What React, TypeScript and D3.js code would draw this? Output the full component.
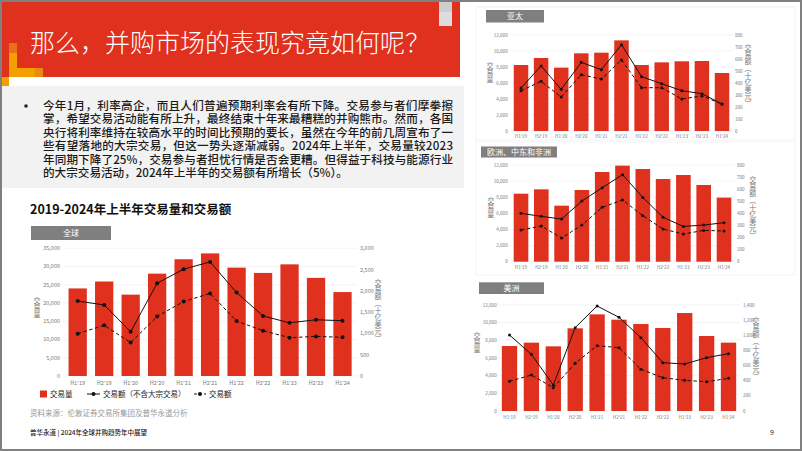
import * as d3 from "d3";
import { useEffect } from "react";

const periods = ["H1'19", "H2'19", "H1'20", "H2'20", "H1'21", "H2'21", "H1'22", "H2'22", "H1'23", "H2'23", "H1'24"];

const globalVolume = [24000, 25900, 22300, 28050, 32000, 33600, 29700, 28250, 30600, 26900, 23000];
const globalValueExMega = [1760, 1670, 1040, 2180, 2510, 2680, 1960, 1410, 1250, 1320, 1300];
const globalValue = [995, 1190, 785, 1400, 1750, 1940, 1290, 1065, 900, 930, 910];

const apacVolume = [8250, 9130, 7920, 9710, 9790, 11330, 8250, 8580, 8710, 8750, 7250];
const apacValueExMega = [358, 542, 347, 572, 511, 719, 453, 394, 336, 311, 225];
const apacValue = [336, 414, 283, 469, 433, 592, 361, 361, 267, 292, 225];

const emeaVolume = [8440, 8980, 6950, 8900, 11130, 11920, 11500, 10260, 10760, 9520, 7950];
const emeaValueExMega = [400, 375, 353, 502, 612, 720, 532, 367, 292, 303, 323];
const emeaValue = [262, 295, 196, 303, 450, 510, 381, 270, 229, 259, 254];

const amerVolume = [7360, 7740, 7320, 9360, 10940, 10340, 9850, 9400, 11090, 8490, 7740];
const amerValueExMega = [1004, 748, 343, 1101, 1387, 1237, 969, 638, 621, 704, 757];
const amerValue = [392, 475, 308, 630, 863, 836, 550, 440, 405, 387, 431];

const paragraphLines = [
  "今年1月，利率高企，而且人们普遍预期利率会有所下降。交易参与者们摩拳擦",
  "掌，希望交易活动能有所上升，最终结束十年来最糟糕的并购熊市。然而，各国",
  "央行将利率维持在较高水平的时间比预期的要长，虽然在今年的前几周宣布了一",
  "些有望落地的大宗交易，但这一势头逐渐减弱。2024年上半年，交易量较2023",
  "年同期下降了25%，交易参与者担忧行情是否会更糟。但得益于科技与能源行业",
  "的大宗交易活动，2024年上半年的交易额有所增长（5%）。"
];

const legendLabels = ["交易量", "交易额（不含大宗交易）", "交易额"];
const leftAxisTitle = "交易量";
const rightAxisTitle = "交易额（十亿美元）";

const red = "#e0301e";
const font = "'Noto Sans CJK SC', 'Noto Sans', sans-serif";
const fmt = d3.format(",");

function VerticalText({
  text,
  x,
  y,
  size
}: {
  readonly text: string;
  readonly x: number;
  readonly y: number;
  readonly size: number;
}): React.JSX.Element {
  return (
    <text
      x={x}
      y={y}
      fontSize={size}
      fill="#777"
      textAnchor="middle"
      style={{ writingMode: "vertical-rl", textOrientation: "mixed" }}
    >
      {text}
    </text>
  );
}

interface ChartProps {
  readonly label: string;
  readonly labelBox: [number, number, number, number];
  readonly volume: readonly number[];
  readonly exMega: readonly number[];
  readonly value: readonly number[];
  readonly xRange: [number, number];
  readonly pad: number;
  readonly yTop: number;
  readonly yBottom: number;
  readonly leftMax: number;
  readonly leftStep: number;
  readonly rightMax: number;
  readonly rightStep: number;
  readonly grid: [number, number];
  readonly leftLabelX: number;
  readonly rightLabelX: number;
  readonly leftTitle: [number, number];
  readonly rightTitle: [number, number];
  readonly xLabelY: number;
  readonly tickSize: number;
  readonly markerR: number;
}

function DualChart(p: ChartProps): React.JSX.Element {
  const x = d3
    .scaleBand<string>()
    .domain(periods)
    .range(p.xRange)
    .paddingInner(p.pad)
    .paddingOuter(p.pad / 2);
  const yL = d3.scaleLinear().domain([0, p.leftMax]).range([p.yBottom, p.yTop]);
  const yR = d3.scaleLinear().domain([0, p.rightMax]).range([p.yBottom, p.yTop]);
  const cx = (i: number) => (x(periods[i]) ?? 0) + x.bandwidth() / 2;
  const path = d3
    .line<number>()
    .x((_, i) => cx(i))
    .y((v) => yR(v));
  const leftTicks = d3.range(0, p.leftMax + 1, p.leftStep);
  const rightTicks = d3.range(0, p.rightMax + 1, p.rightStep);
  const [bx, by, bw, bh] = p.labelBox;

  return (
    <g fontFamily={font}>
      <rect x={bx} y={by} width={bw} height={bh} fill="#7f7f7f" />
      <text x={bx + bw / 2} y={by + bh / 2 + 3} fontSize={8} fill="#fff" textAnchor="middle">
        {p.label}
      </text>
      {leftTicks.map((t) => (
        <line key={`g${t}`} x1={p.grid[0]} x2={p.grid[1]} y1={yL(t)} y2={yL(t)} stroke="#ececec" strokeWidth={0.6} />
      ))}
      {leftTicks.map((t) => (
        <text key={`l${t}`} x={p.leftLabelX} y={yL(t) + p.tickSize * 0.35} fontSize={p.tickSize} fill="#777" textAnchor="end">
          {fmt(t)}
        </text>
      ))}
      {rightTicks.map((t) => (
        <text key={`r${t}`} x={p.rightLabelX} y={yR(t) + p.tickSize * 0.35} fontSize={p.tickSize} fill="#777">
          {fmt(t)}
        </text>
      ))}
      {p.volume.map((v, i) => (
        <rect key={periods[i]} x={x(periods[i])} y={yL(v)} width={x.bandwidth()} height={yL(0) - yL(v)} fill={red} />
      ))}
      {periods.map((lab, i) => (
        <text key={`x${lab}`} x={cx(i)} y={p.xLabelY} fontSize={p.tickSize} fill="#777" textAnchor="middle">
          {lab}
        </text>
      ))}
      <path d={path(p.value as number[]) ?? ""} fill="none" stroke="#111" strokeWidth={1} strokeDasharray="3.5,2.5" />
      <path d={path(p.exMega as number[]) ?? ""} fill="none" stroke="#111" strokeWidth={1} />
      {p.value.map((v, i) => (
        <circle key={`d${i}`} cx={cx(i)} cy={yR(v)} r={p.markerR} fill="#111" />
      ))}
      {p.exMega.map((v, i) => (
        <circle key={`s${i}`} cx={cx(i)} cy={yR(v)} r={p.markerR} fill="#111" />
      ))}
      <VerticalText text={leftAxisTitle} x={p.leftTitle[0]} y={p.leftTitle[1]} size={7} />
      <VerticalText text={rightAxisTitle} x={p.rightTitle[0]} y={p.rightTitle[1]} size={7} />
    </g>
  );
}

export default function App(): React.JSX.Element {
  useEffect(() => {
    document.body.style.margin = "0";
    document.body.style.overflow = "hidden";
  }, []);

  return (
    <svg width={802} height={451} viewBox="0 0 802 451" style={{ position: "absolute", left: 0, top: 0 }}>
      <rect x={0} y={0} width={802} height={451} fill="#fff" />

      {/* title band */}
      <rect x={2} y={2} width={458} height={75} fill={red} />
      <rect x={439} y={2} width={13} height={24} fill="#dcdcdc" />
      <rect x={439} y={2} width={13} height={10} fill="#c8c8c8" opacity={0.7} />
      <rect x={9} y={43} width={8} height={10} fill="#e8701a" />
      <rect x={9} y={53} width={8} height={15} fill="#f2a000" />
      <rect x={9} y={68} width={26} height={9} fill="#f2a000" />
      <rect x={35} y={68} width={8} height={9} fill="#eb8a10" />
      <rect x={2} y={77} width={7} height={10} fill="#f2a000" />
      <text x={30} y={52} fontFamily={font} fontSize={25} fontWeight={300} fill="#fff">
        那么，并购市场的表现究竟如何呢？
      </text>

      {/* paragraph */}
      <rect x={2} y={86} width={462} height={102} fill="#f2f2f2" />
      <circle cx={26} cy={106} r={1.8} fill="#222" />
      {paragraphLines.map((ln, i) => (
        <text
          key={ln}
          x={43}
          y={110 + i * 13.4}
          fontFamily={font}
          fontSize={11.6}
          fontWeight={500}
          fill="#1a1a1a"
          textLength={i < paragraphLines.length - 1 ? 410 : undefined}
          lengthAdjust="spacing"
        >
          {ln}
        </text>
      ))}

      {/* global chart */}
      <text x={30} y={214} fontFamily={font} fontSize={12.5} fontWeight={700} fill="#111">
        2019-2024年上半年交易量和交易额
      </text>
      <DualChart
        label="全球"
        labelBox={[31, 226, 80, 14]}
        volume={globalVolume}
        exMega={globalValueExMega}
        value={globalValue}
        xRange={[64.46, 355.74]}
        pad={0.31}
        yTop={248.3}
        yBottom={376}
        leftMax={35000}
        leftStep={5000}
        rightMax={3000}
        rightStep={500}
        grid={[63, 357]}
        leftLabelX={60}
        rightLabelX={360}
        leftTitle={[37, 307]}
        rightTitle={[378, 310]}
        xLabelY={385}
        tickSize={5.5}
        markerR={2}
      />
      <g fontFamily={font} fontSize={7.5} fill="#222">
        <rect x={40} y={390.5} width={7} height={7} fill={red} />
        <text x={50} y={397}>{legendLabels[0]}</text>
        <line x1={87} x2={100} y1={394} y2={394} stroke="#111" strokeWidth={1} />
        <circle cx={93.5} cy={394} r={2} fill="#111" />
        <text x={103} y={397}>{legendLabels[1]}</text>
        <line x1={194} x2={206} y1={394} y2={394} stroke="#111" strokeWidth={1} strokeDasharray="3,2" />
        <circle cx={200} cy={394} r={2} fill="#111" />
        <text x={209} y={397}>{legendLabels[2]}</text>
      </g>
      <text x={30} y={416} fontFamily={font} fontSize={7.5} fill="#999">
        资料来源：伦敦证券交易所集团及普华永道分析
      </text>

      {/* right panels */}
      <rect x={476} y={7} width={319} height={133} fill="none" stroke="#f0f0f0" strokeWidth={0.8} />
      <rect x={476} y={142} width={319} height={133} fill="none" stroke="#f0f0f0" strokeWidth={0.8} />
      <DualChart
        label="亚太"
        labelBox={[486, 10, 58, 12.5]}
        volume={apacVolume}
        exMega={apacValueExMega}
        value={apacValue}
        xRange={[510.95, 732.05]}
        pad={0.28}
        yTop={35}
        yBottom={131}
        leftMax={12000}
        leftStep={2000}
        rightMax={800}
        rightStep={100}
        grid={[510, 733]}
        leftLabelX={507.7}
        rightLabelX={735}
        leftTitle={[490, 72]}
        rightTitle={[748, 75]}
        xLabelY={138}
        tickSize={4.6}
        markerR={1.5}
      />
      <DualChart
        label="欧洲、中东和非洲"
        labelBox={[481, 146.5, 76, 11]}
        volume={emeaVolume}
        exMega={emeaValueExMega}
        value={emeaValue}
        xRange={[510.85, 734.15]}
        pad={0.28}
        yTop={165}
        yBottom={261.7}
        leftMax={12000}
        leftStep={2000}
        rightMax={800}
        rightStep={100}
        grid={[510, 734]}
        leftLabelX={507.7}
        rightLabelX={737}
        leftTitle={[490.7, 207]}
        rightTitle={[752.7, 207]}
        xLabelY={268.5}
        tickSize={4.6}
        markerR={1.5}
      />
      <DualChart
        label="美洲"
        labelBox={[479, 282.3, 65, 11.7]}
        volume={amerVolume}
        exMega={amerValueExMega}
        value={amerValue}
        xRange={[498.55, 739.45]}
        pad={0.3}
        yTop={305}
        yBottom={411}
        leftMax={12000}
        leftStep={2000}
        rightMax={1400}
        rightStep={200}
        grid={[498, 740]}
        leftLabelX={496.7}
        rightLabelX={743}
        leftTitle={[477, 342]}
        rightTitle={[756, 348]}
        xLabelY={418.5}
        tickSize={4.6}
        markerR={1.5}
      />

      {/* footer */}
      <text x={30} y={435} fontFamily={font} fontSize={6.5} fontWeight={500} fill="#222">
        普华永道 | 2024年全球并购趋势年中展望
      </text>
      <text x={770} y={435} fontFamily={font} fontSize={7} fill="#222">
        9
      </text>

      <rect x={1} y={1} width={800} height={449} fill="none" stroke="#808080" strokeWidth={2} />
    </svg>
  );
}
